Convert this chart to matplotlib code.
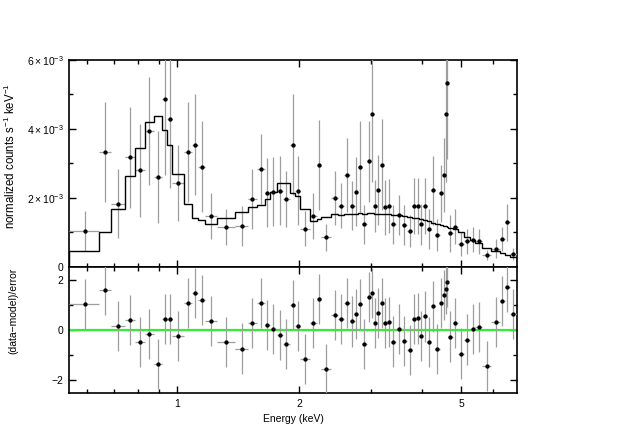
import numpy as np
import matplotlib
matplotlib.use("Agg")
import matplotlib.pyplot as plt
from matplotlib.ticker import FixedLocator, NullFormatter, FuncFormatter

plt.rcParams['font.family'] = ['Liberation Sans', 'DejaVu Sans']
plt.rcParams['mathtext.fontset'] = 'custom'
plt.rcParams['mathtext.rm'] = 'Liberation Sans'
plt.rcParams['mathtext.it'] = 'Liberation Sans:italic'
plt.rcParams['mathtext.bf'] = 'Liberation Sans:bold'

# bin edges (keV)
edges = [0.542, 0.642, 0.688, 0.744, 0.788, 0.832, 0.878, 0.920, 0.943, 0.974,
         1.040, 1.085, 1.126, 1.170, 1.255, 1.387, 1.496, 1.569, 1.645, 1.692,
         1.758, 1.821, 1.895, 1.950, 2.006, 2.123, 2.203, 2.259, 2.392, 2.488,
         2.575, 2.656, 2.733, 2.787, 2.851, 2.925, 2.992, 3.043, 3.096, 3.158,
         3.212, 3.276, 3.352, 3.458, 3.568, 3.681, 3.787, 3.867, 3.940, 4.031,
         4.123, 4.218, 4.315, 4.426, 4.515, 4.566, 4.600, 4.645, 4.764, 4.901,
         5.085, 5.261, 5.413, 5.632, 5.927, 6.220, 6.399, 6.583, 6.857]

# data (1e-3 counts/s/keV)
counts = [1.05, 3.34, 1.83, 3.18, 2.80, 3.94, 2.60, 4.86, 4.28, 2.44,
          3.34, 3.55, 2.91, 1.47, 1.16, 1.19, 1.97, 2.84, 2.15, 2.18,
          2.21, 1.97, 3.55, 2.21, 1.11, 1.47, 2.96, 0.86, 2.01, 1.78,
          2.67, 1.78, 2.18, 2.91, 1.24, 3.06, 4.44, 1.77, 2.23, 2.96,
          1.73, 1.77, 1.24, 1.51, 1.22, 1.05, 1.77, 1.77, 1.24, 1.77,
          1.11, 2.23, 0.93, 2.14, 2.67, 4.44, 5.32, 0.98, 1.17, 0.67,
          0.74, 0.79, 0.74, 0.34, 0.53, 0.81, 1.29, 0.38]
errors = [0.58, 1.45, 1.00, 1.46, 1.34, 1.57, 1.33, 2.20, 2.00, 1.10,
          1.45, 1.46, 1.32, 0.66, 0.53, 0.57, 0.88, 1.00, 1.00, 1.00,
          1.00, 0.80, 1.46, 1.00, 0.50, 0.67, 1.31, 0.39, 0.78, 0.66,
          1.07, 0.70, 1.00, 1.31, 0.57, 1.17, 1.97, 0.75, 1.02, 1.32,
          0.80, 0.78, 0.57, 0.58, 0.57, 0.46, 0.80, 0.80, 0.60, 0.80,
          0.58, 1.00, 0.46, 0.83, 1.07, 1.97, 2.20, 0.54, 0.50, 0.35,
          0.35, 0.36, 0.37, 0.15, 0.27, 0.36, 0.55, 0.18]
model = [0.45, 1.00, 1.68, 2.63, 3.44, 4.21, 4.39, 3.96, 3.53, 2.70,
         1.83, 1.43, 1.35, 1.24, 1.42, 1.58, 1.73, 1.81, 1.97, 2.17,
         2.43, 2.43, 2.15, 2.05, 1.68, 1.32, 1.38, 1.46, 1.55, 1.50,
         1.53, 1.54, 1.55, 1.56, 1.55, 1.56, 1.56, 1.55, 1.55, 1.54,
         1.53, 1.53, 1.52, 1.51, 1.49, 1.44, 1.43, 1.41, 1.38, 1.35,
         1.32, 1.28, 1.25, 1.22, 1.19, 1.18, 1.17, 1.14, 1.09, 1.00,
         0.88, 0.78, 0.70, 0.56, 0.45, 0.40, 0.34, 0.28]
resid = [1.03, 1.61, 0.16, 0.39, -0.47, -0.16, -1.34, 0.43, 0.43, -0.24,
         1.07, 1.48, 1.21, 0.36, -0.47, -0.74, 0.28, 1.07, 0.20, 0.04,
         -0.20, -0.56, 1.01, 0.17, -1.14, 0.28, 1.23, -1.54, 0.59, 0.43,
         1.07, 0.34, 0.63, 1.03, -0.55, 1.30, 1.46, 0.28, 0.68, 1.07,
         0.28, 0.32, -0.46, 0.04, -0.44, -0.81, 0.44, 0.46, -0.23, 0.54,
         -0.47, 0.94, -0.77, 1.07, 1.38, 1.65, 1.93, -0.26, 0.28, -0.94,
         -0.38, 0.05, 0.13, -1.44, 0.32, 1.14, 1.72, 0.63]

edges = np.array(edges)
lo, hi = edges[:-1], edges[1:]
xc = 0.5 * (lo + hi)
xerr = [xc - lo, hi - xc]
counts = np.array(counts) * 1e-3
errors = np.array(errors) * 1e-3
model = np.array(model) * 1e-3

fig = plt.figure(figsize=(6.23, 4.40), dpi=100)
ax1 = fig.add_axes([0.1108, 0.3932, 0.7190, 0.4705])
ax2 = fig.add_axes([0.1108, 0.1068, 0.7190, 0.2864], sharex=ax1)

ecol = '0.62'
ax1.errorbar(xc, counts, yerr=errors, xerr=xerr, fmt='o', ms=2.1, color='black',
             ecolor=ecol, elinewidth=0.9, capsize=0, zorder=3)
ax1.stairs(model, edges, color='black', lw=1.0, zorder=4)

ax2.errorbar(xc, resid, yerr=1.0, xerr=xerr, fmt='o', ms=2.1, color='black',
             ecolor=ecol, elinewidth=0.9, capsize=0, zorder=3)
ax2.axhline(0, color='#33ee33', lw=1.6, zorder=2)

ax1.set_xscale('log')
ax1.set_xlim(0.542, 6.857)
ax1.set_ylim(0, 6e-3)
ax2.set_ylim(-2.52, 2.52)

major_x = [1, 2, 5]
minor_x = [0.6, 0.7, 0.8, 0.9, 3, 4, 6]
for ax in (ax1, ax2):
    ax.xaxis.set_major_locator(FixedLocator(major_x))
    ax.xaxis.set_minor_locator(FixedLocator(minor_x))
    ax.xaxis.set_minor_formatter(NullFormatter())
    ax.tick_params(which='both', direction='in', top=True, right=True,
                   labelsize=7.5, width=1.0, pad=4)
    ax.tick_params(which='major', length=5)
    ax.tick_params(which='minor', length=3)
    for sp in ax.spines.values():
        sp.set_linewidth(1.2)

ax1.tick_params(labelbottom=False)
ax1.yaxis.set_major_locator(FixedLocator([0, 2e-3, 4e-3, 6e-3]))
ax1.yaxis.set_minor_locator(FixedLocator([1e-3, 3e-3, 5e-3]))


def fmt_top(v, pos):
    if abs(v) < 1e-12:
        return '0'
    return r'$%d\times10^{-3}$' % round(v * 1e3)


ax1.yaxis.set_major_formatter(FuncFormatter(fmt_top))
ax2.yaxis.set_major_locator(FixedLocator([-2, 0, 2]))
ax2.yaxis.set_minor_locator(FixedLocator([-1, 1]))
ax2.yaxis.set_major_formatter(FuncFormatter(lambda v, p: '%d' % v if v >= 0 else '\u2212%d' % -v))
ax2.xaxis.set_major_formatter(FuncFormatter(lambda v, p: '%g' % v))

ax1.set_ylabel(r'normalized counts s$^{-1}$ keV$^{-1}$', fontsize=8.3)
ax2.set_ylabel('(data\u2212model)/error', fontsize=7.5)
ax2.set_xlabel('Energy (keV)', fontsize=7.5, labelpad=4)
ax1.yaxis.set_label_coords(-0.113, 0.535)
ax2.yaxis.set_label_coords(-0.113, 0.65)

fig.savefig('out.png', dpi=100)
